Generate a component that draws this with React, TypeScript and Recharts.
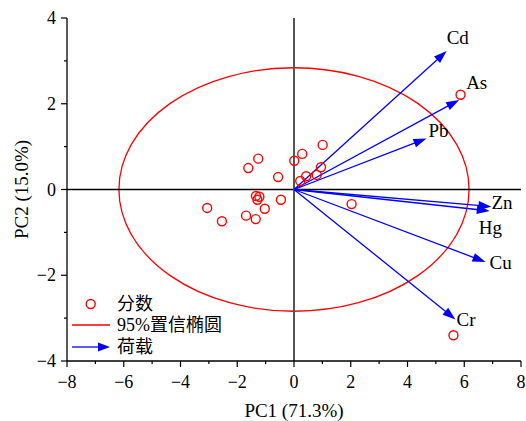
import { ScatterChart, Scatter, XAxis, YAxis, ReferenceLine, ReferenceArea } from 'recharts'

// sample scores (PC1, PC2)
const scoreX = [1.01, 0.29, 0.01, -1.26, -1.61, -0.56, 0.95, 0.8, 0.43, 0.22, -1.34, -1.22, -1.29, -0.46, -1.03, -3.06, -1.69, -1.35, -2.54, 2.03, 5.87, 5.62]
const scoreY = [1.04, 0.83, 0.67, 0.72, 0.5, 0.29, 0.52, 0.34, 0.31, 0.2, -0.15, -0.17, -0.24, -0.24, -0.45, -0.43, -0.61, -0.69, -0.74, -0.34, 2.21, -3.4]

// loadings (arrow tips)
const elements = ['Cd', 'As', 'Pb', 'Zn', 'Hg', 'Cu', 'Cr']
const loadX = [5.38, 5.82, 4.67, 6.96, 6.9, 6.75, 5.69]
const loadY = [3.23, 2.09, 1.19, -0.4, -0.5, -1.69, -3.03]

// 95% confidence ellipse semi-axes
const ellipseA = 6.17
const ellipseB = 2.84

const xTicks = [-8, -7, -6, -5, -4, -3, -2, -1, 0, 1, 2, 3, 4, 5, 6, 7, 8]
const yTicks = [-4, -3, -2, -1, 0, 1, 2, 3, 4]
const topTicks = [-6.4, -4.8, -3.2, -1.6, 0, 1.6, 3.2, 4.8, 6.4]
const rightTicks = [2.667, 1.333, 0, -1.333, -2.667]

const labelOffset: Record<string, [number, number]> = {
  Cd: [0, -7],
  As: [7, -11],
  Pb: [2, -1],
  Zn: [0, 2],
  Hg: [-11, 23],
  Cu: [4, 7],
  Cr: [1, 7],
}

const FONT = "'Liberation Serif', 'Times New Roman', serif"
const CJK = "'Liberation Serif', 'Noto Sans CJK SC', serif"
const ORANGE = '#FF8A1F'
const BLUE = '#0000FF'

const scores = scoreX.map((x, i) => ({ x, y: scoreY[i] }))

const fmt = (v: number) => (v < 0 ? `\u2212${-v}` : `${v}`)

const BottomTick = (props: any) => {
  const { x, y, payload } = props
  const v = payload.value
  const major = v % 2 === 0
  return (
    <g>
      <line x1={x} x2={x} y1={y} y2={y + (major ? 6 : 3)} stroke="#000" strokeWidth={1.2} />
      {major && (
        <text x={x} y={y + 27} textAnchor="middle" fontSize={18} fontFamily={FONT} fill="#000">
          {fmt(v)}
        </text>
      )}
    </g>
  )
}

const LeftTick = (props: any) => {
  const { x, y, payload } = props
  const v = payload.value
  const major = v % 2 === 0
  return (
    <g>
      <line x1={x - (major ? 6 : 3)} x2={x} y1={y} y2={y} stroke="#000" strokeWidth={1.2} />
      {major && (
        <text x={x - 11} y={y} dy="0.34em" textAnchor="end" fontSize={18} fontFamily={FONT} fill="#000">
          {fmt(v)}
        </text>
      )}
    </g>
  )
}

const TopTick = (props: any) => {
  const { x, y, index } = props
  const len = index % 2 === 0 ? 7 : 4
  return <line x1={x} x2={x} y1={y} y2={y + len} stroke={ORANGE} strokeWidth={1.2} />
}

const RightTick = (props: any) => {
  const { x, y, index } = props
  const len = index % 2 === 0 ? 6 : 3
  return <line x1={x - len} x2={x} y1={y} y2={y} stroke={ORANGE} strokeWidth={1.2} />
}

const ScoreDot = (props: any) => (
  <circle cx={props.cx} cy={props.cy} r={4.5} fill="none" stroke="#FF0000" strokeWidth={1.4} />
)

const Arrow = (props: any) => {
  const { x1, y1, x2, y2, name } = props
  const dx = x2 - x1
  const dy = y2 - y1
  const len = Math.hypot(dx, dy) || 1
  const ux = dx / len
  const uy = dy / len
  const head = 13
  const hw = 4.5
  const bx = x2 - ux * head
  const by = y2 - uy * head
  const [ox, oy] = labelOffset[name] || [0, 0]
  return (
    <g>
      <line x1={x1} y1={y1} x2={bx + ux * 2} y2={by + uy * 2} stroke={BLUE} strokeWidth={1.3} />
      <polygon
        points={`${x2},${y2} ${bx - uy * hw},${by + ux * hw} ${bx + uy * hw},${by - ux * hw}`}
        fill={BLUE}
      />
      <text x={x2 + ox} y={y2 + oy} fontSize={19} fontFamily={FONT} fill="#000">
        {name}
      </text>
    </g>
  )
}

const EllipseShape = (props: any) => {
  const { x, y, width, height } = props
  return (
    <ellipse
      cx={x + width / 2}
      cy={y + height / 2}
      rx={Math.abs(width) / 2}
      ry={Math.abs(height) / 2}
      fill="none"
      stroke="#FF0000"
      strokeWidth={1.3}
    />
  )
}

const YTitle = (props: any) => {
  const vb = props.viewBox || { x: 17, y: 18, width: 50, height: 343 }
  const cx = vb.x + 5
  const cy = vb.y + vb.height / 2
  return (
    <text
      x={cx}
      y={cy}
      transform={`rotate(-90 ${cx} ${cy})`}
      textAnchor="middle"
      dy="0.34em"
      fontSize={19}
      fontFamily={FONT}
      fill="#000"
    >
      PC2 (15.0%)
    </text>
  )
}

function LegendBox() {
  return (
    <svg
      width={200}
      height={70}
      style={{ position: 'absolute', left: 68, top: 293, overflow: 'visible' }}
    >
      <circle cx={22.7} cy={11} r={4.5} fill="none" stroke="#FF0000" strokeWidth={1.4} />
      <text x={49} y={11} dy="0.36em" fontSize={18} fontFamily={CJK} fill="#000">
        分数
      </text>
      <line x1={4} x2={42} y1={32} y2={32} stroke="#FF0000" strokeWidth={1.3} />
      <text x={49} y={32} dy="0.36em" fontSize={18} fontFamily={CJK} fill="#000">
        95%置信椭圆
      </text>
      <line x1={4} x2={32} y1={54} y2={54} stroke={BLUE} strokeWidth={1.3} />
      <polygon points="42,54 30,49.5 30,58.5" fill={BLUE} />
      <text x={49} y={54} dy="0.36em" fontSize={18} fontFamily={CJK} fill="#000">
        荷载
      </text>
    </svg>
  )
}

export default function App() {
  return (
    <div style={{ position: 'absolute', left: 0, top: 0, width: 526, height: 421, background: '#fff' }}>
      <ScatterChart width={526} height={421} margin={{ top: 18, right: 5, bottom: 30, left: 17 }}>
        <XAxis
          type="number"
          dataKey="x"
          domain={[-8, 8]}
          ticks={xTicks}
          interval={0}
          tickSize={0}
          tickMargin={0}
          tickLine={false}
          tick={<BottomTick />}
          axisLine={{ stroke: '#000', strokeWidth: 1.3 }}
          height={30}
          allowDataOverflow
          label={{ value: 'PC1 (71.3%)', position: 'bottom', offset: 13, fontSize: 19, fontFamily: FONT, fill: '#000' }}
        />
        <YAxis
          type="number"
          dataKey="y"
          domain={[-4, 4]}
          ticks={yTicks}
          interval={0}
          tickSize={0}
          tickMargin={0}
          tickLine={false}
          tick={<LeftTick />}
          axisLine={{ stroke: '#000', strokeWidth: 1.3 }}
          width={50}
          allowDataOverflow
          label={{ content: <YTitle /> }}
        />
        <XAxis
          xAxisId="top"
          orientation="top"
          type="number"
          domain={[-8, 8]}
          ticks={topTicks}
          interval={0}
          tickSize={0}
          tickMargin={0}
          tickLine={false}
          tick={<TopTick />}
          axisLine={{ stroke: ORANGE, strokeWidth: 1.3 }}
          height={0}
          allowDataOverflow
        />
        <YAxis
          yAxisId="right"
          orientation="right"
          type="number"
          domain={[-4, 4]}
          ticks={rightTicks}
          interval={0}
          tickSize={0}
          tickMargin={0}
          tickLine={false}
          tick={<RightTick />}
          axisLine={{ stroke: ORANGE, strokeWidth: 1.3 }}
          width={0}
          allowDataOverflow
        />
        <ReferenceArea
          x1={-ellipseA}
          x2={ellipseA}
          y1={-ellipseB}
          y2={ellipseB}
          shape={(p: any) => <EllipseShape {...p} />}
        />
        <ReferenceLine y={0} stroke="#000" strokeWidth={1.4} />
        <ReferenceLine x={0} stroke="#555" strokeWidth={2} />
        {elements.map((el, i) => (
          <ReferenceLine
            key={el}
            segment={[
              { x: 0, y: 0 },
              { x: loadX[i], y: loadY[i] },
            ]}
            shape={(p: any) => <Arrow {...p} name={el} />}
          />
        ))}
        <Scatter data={scores} shape={<ScoreDot />} isAnimationActive={false} />
      </ScatterChart>
      <LegendBox />
    </div>
  )
}
